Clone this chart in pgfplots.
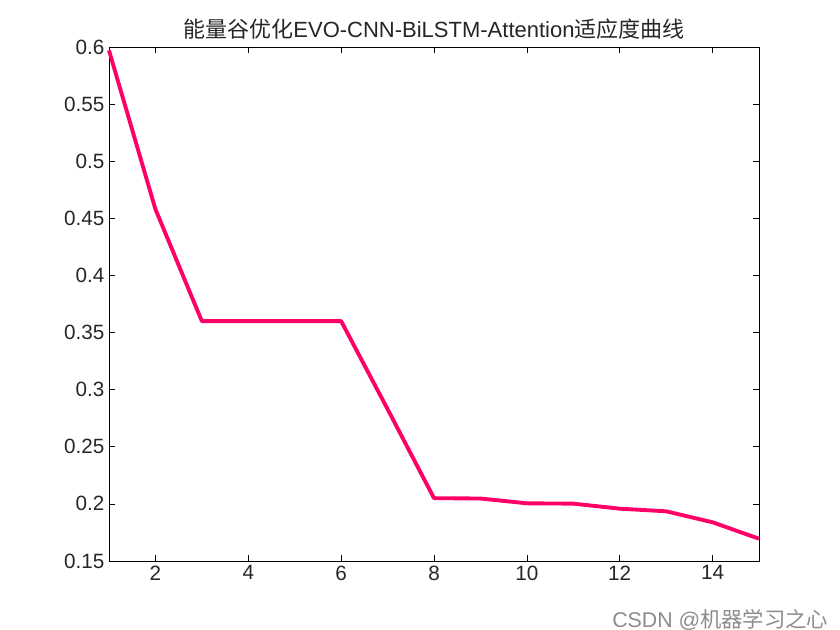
\documentclass[border=0pt]{standalone}
\usepackage{fontspec}
\setmainfont{Liberation Sans}
\newfontfamily\cjk{Noto Sans CJK SC}
\usepackage{pgfplots}
\pgfplotsset{compat=1.18}
\definecolor{lc}{RGB}{255,0,102}
\begin{document}
\begin{tikzpicture}
\useasboundingbox (-81.75pt,-51.75pt) rectangle (548.25pt,420.75pt);
\begin{axis}[name=ax, scale only axis, width=487.5pt, height=385.5pt,
  xmin=1, xmax=15, ymin=0.15, ymax=0.6,
  xtick={2,4,...,14}, ytick={0.15,0.2,...,0.6},
  yticklabels={0.15,0.2,0.25,0.3,0.35,0.4,0.45,0.5,0.55,0.6},
  tick align=inside, major tick length=4.5pt,
  tick style={black, line width=0.5pt},
  axis line style={black, line width=0.5pt},
  /pgf/number format/assume math mode=true,
  ticklabel style={font=\fontsize{15.5}{17}\selectfont, text=black!85},
  title={\fontsize{16.5}{18}\selectfont {\cjk 能量谷优化}EVO-CNN-BiLSTM-Attention{\cjk 适应度曲线}},
  title style={yshift=-4pt, text=black!85},
  clip=false]
\addplot[lc, line width=2.9pt, line join=round] coordinates {
(1,0.597) (2,0.458) (3,0.360) (4,0.360) (5,0.360) (6,0.360) (7,0.283)
(8,0.205) (9,0.2047) (10,0.2005) (11,0.2002) (12,0.1958) (13,0.1935)
(14,0.1839) (15,0.1695)};
\end{axis}
\node[anchor=east, text=black!45, font=\fontsize{16}{18}\selectfont] at (543pt,-44pt) {CSDN @{\cjk 机器学习之心}};
\end{tikzpicture}
\end{document}
